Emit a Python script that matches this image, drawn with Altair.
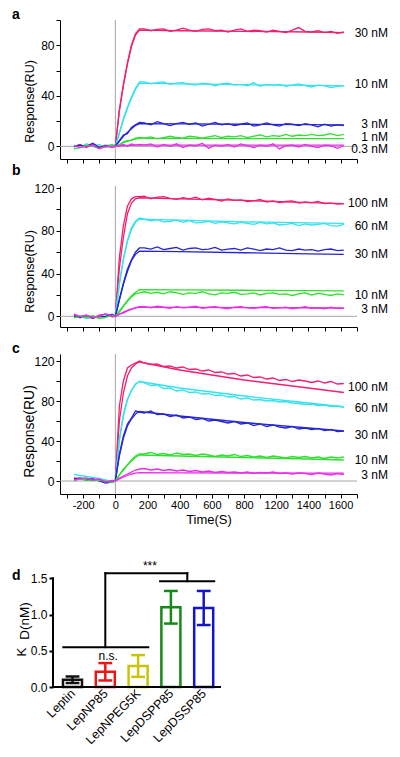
import json
import altair as alt
import pandas as pd

FONT = "Liberation Sans"
GRAY = "#a6a6a6"

# ---------------- time grids (s) ----------------
T_DATA = [-257, -220, -180, -140, -100, -60, -20, 0,
          25, 50, 75, 100, 125, 150,
          180, 220, 260, 300, 340, 380, 420, 460, 500, 540,
          580, 620, 660, 700, 740, 780, 820, 860, 900, 940,
          980, 1020, 1060, 1100, 1140, 1180, 1220, 1260, 1300, 1340,
          1380, 1420]
T_FIT = [0, 25, 50, 75, 100, 125, 150, 400, 800, 1200, 1420]

X_TICKS = [-300, -200, -100, 0, 100, 200, 300, 400, 500, 600, 700, 800,
           900, 1000, 1100, 1200, 1300, 1400, 1500]
X_LABEL_POS = [-200, 0, 200, 400, 600, 800, 1000, 1200, 1400]
X_LABEL_TXT = ["-200", "0", "200", "400", "600", "800", "1200", "1400", "1600"]

LINE_COLORS = ["#f21f6f", "#33e2ee", "#2626d2", "#30df30", "#e92ee9"]
RANKS = ["0", "1", "2", "3", "4"]

# ---------------- panel a ----------------
A_LABELS = ["30 nM", "10 nM", "3 nM", "1 nM", "0.3 nM"]
A_LABEL_Y = [90, 49, 18, 7.4, -2]
A30 = [0, 1.5, -1, 2, -0.5, 1, -1, 0] + [29, 49, 66, 80, 89, 93] + [
    93, 91.5, 92.5, 93, 91, 92, 93.5, 92, 91, 92.5, 93, 91.5, 92, 90.5, 92, 93,
    91, 92, 91.5, 90.5, 92, 91, 90, 92, 94, 91, 90.5, 91.5, 90, 91, 89.5, 90.5]
A10 = [1, -1, 2, 0, 1.5, -1, 0.5, 0] + [10, 22, 31, 39, 46, 51] + [
    51, 49.5, 50.5, 51, 49, 50, 50.5, 49, 48.5, 50, 49.5, 48, 49.5, 50, 48.5, 49,
    48, 50.5, 47.5, 49, 48.5, 49, 47.5, 48.5, 49.5, 48, 47, 48.5, 48, 46.5, 47.5, 48]
A3 = [-0.5, 1, 0, 2.5, -1, 0.5, 1, 0.5] + [4.5, 9, 10, 15, 17, 19] + [
    18.5, 17, 19.5, 18, 16.5, 18, 19, 17.5, 18.5, 16, 17.5, 19, 17, 18, 16.5, 17.5,
    18.5, 16, 17, 18.5, 17, 16, 18, 17.5, 16.5, 18, 17, 15.5, 17.5, 16, 17, 16.5]
A1 = [-2, -1, 1, 0, -1.5, 0, 1, 0] + [1, 3.5, 4.5, 5, 6.5, 7] + [
    6.5, 7.5, 6, 7, 8, 7, 6.5, 8, 7.5, 6.5, 7.5, 8.5, 7, 8, 7.5, 8.5,
    7, 8, 9, 7.5, 8.5, 8, 9.5, 8, 9, 8.5, 9.5, 8.5, 9, 10, 8.5, 9.5]
A03 = [0.5, -1, 0, 1, -2, 0, -0.5, 0] + [0.5, 1.5, 0, 2, 1, 1.5] + [
    1, 2, -0.5, 1.5, 0, 2, -1, 1, 0.5, 2.5, -1.5, 1, 0, 1.5, -0.5, 2,
    0.5, -1, 1, 0, 2, -2, 0.5, 1, -0.5, 1.5, 0, -1, 1, 0.5, -1.5, 0.5]
A30_FIT = [0, 28, 48, 65, 79, 88, 92, 91.5, 91, 90.5, 90]
A10_FIT = [0, 11, 21, 30, 38, 45, 50, 49.5, 48.8, 48.2, 47.8]
A3_FIT = [0, 4, 8, 11, 14, 16.5, 18, 17.8, 17.5, 17.2, 17]
A1_FIT = [0, 1.5, 3, 4, 5, 5.8, 6.3, 6.3, 6.2, 6.2, 6.1]
A03_FIT = [0, 0.3, 0.6, 0.8, 0.9, 1, 1, 1, 1, 1, 1]

# ---------------- panel b ----------------
B_LABELS = ["100 nM", "60 nM", "30 nM", "10 nM", "3 nM"]
B_LABEL_Y = [106, 84.6, 58.5, 20.4, 7.2]
B100 = [1, -1.5, 0, -2, 1, 2, -0.5, 0] + [55, 85, 103, 110, 112, 112] + [
    112.5, 110, 111.5, 112, 110.5, 109.5, 111, 110, 111.5, 109, 110.5, 109.5, 108, 110, 108.5, 109,
    107.5, 108, 109.5, 107, 108, 106.5, 107.5, 108, 106, 107, 106.5, 107.5, 105.5, 106, 105, 105.5]
B60 = [-1, 0.5, -2, -1, 0, 1.5, 1, 0] + [31, 54, 71, 83, 89, 92] + [
    91, 89.5, 90.5, 88.5, 89, 90, 88, 89.5, 87.5, 88, 89, 87, 88.5, 87.5, 86.5, 88,
    87, 86, 88, 86.5, 87.5, 85.5, 86, 87, 85, 86.5, 85.5, 86, 87, 85, 84.5, 86]
B30 = [0.5, -1, 1, -1.5, -0.5, 0, 2, 0] + [16, 31, 44, 53, 60, 64] + [
    64, 63, 65, 62.5, 63.5, 64.5, 62, 63.5, 64, 62.5, 63, 64.5, 62, 63, 63.5, 62,
    64, 63, 61.5, 63, 62.5, 64, 62, 61.5, 63, 62, 62.5, 61, 62.5, 63, 61.5, 62]
B10 = [-1.5, 0, -1, 0.5, -2, -1, 1, 0] + [4, 9, 14, 18, 21, 22] + [
    23, 21.5, 22.5, 21, 23, 22, 20.5, 22, 21.5, 23, 21, 20, 22, 21.5, 22.5, 20.5,
    21, 22, 20, 21.5, 22, 20.5, 21, 19.5, 21, 22, 20, 21.5, 20.5, 19.5, 21, 20]
B3 = [2, 0, 1, -1, 0, 2.5, 0.5, 0] + [2, 3, 5, 6.5, 8, 9] + [
    9, 8, 9.5, 8.5, 7.5, 9, 8, 8.5, 9.5, 7.5, 8.5, 9, 8, 7, 8.5, 9,
    8, 7.5, 8.5, 9, 7.5, 8, 8.5, 7, 8, 9, 7.5, 8, 7, 8.5, 7.5, 7.5]
B100_FIT = [0, 45, 74, 96, 106, 110, 111, 110, 108.5, 106.5, 105.5]
B60_FIT = [0, 30, 53, 70, 81, 88, 91, 90, 88.5, 87.5, 87]
B30_FIT = [0, 15, 30, 42, 52, 58, 61, 60.5, 59.5, 58.5, 58]
B10_FIT = [0, 5, 10, 15, 19, 22.5, 25, 24.8, 24.4, 24, 23.8]
B3_FIT = [0, 2, 4, 5.5, 7, 8, 8.5, 8.4, 8.2, 8, 7.8]

# ---------------- panel c ----------------
C_LABELS = ["100 nM", "60 nM", "30 nM", "10 nM", "3 nM"]
C_LABEL_Y = [94.5, 73, 46, 21.5, 6.5]
C100 = [3, 2, 1.5, 2, 0.5, -1, 0, 0] + [75, 100, 113, 116, 118, 120] + [
    118, 116.5, 117, 114.5, 115, 113, 114, 111.5, 112, 110, 111, 108.5, 109, 107, 107.5, 105,
    106, 103.5, 104, 102, 103, 100.5, 101.5, 99.5, 101, 100, 98.5, 100, 98, 99.5, 97, 97.5]
C60 = [6.5, 5.5, 4.5, 3.5, 2.5, 1, -0.5, 0] + [42, 67, 82, 90, 97, 99.5] + [
    98, 95.5, 96, 92.5, 93, 90, 91, 88.5, 89, 87, 87.5, 85.5, 86, 84, 84.5, 82,
    83, 81, 81.5, 80, 80.5, 79, 79.5, 78, 77.5, 76.5, 77, 75.5, 76, 74.5, 75, 74]
C30 = [2, 3, 1, 2, 0, -2, -1, 0] + [27, 45, 57, 63, 70, 69] + [
    68, 70, 66.5, 67, 64.5, 66, 63, 64, 61.5, 62.5, 60, 61, 59.5, 58, 59.5, 57,
    58, 55.5, 57, 54.5, 56, 54, 53, 54.5, 52, 53, 51.5, 52.5, 50.5, 51.5, 49.5, 50]
C10 = [0, 2, 1, 0.5, 1, 0, -1.5, 0] + [6, 12, 16, 21, 25, 27] + [
    27, 28.5, 26.5, 27.5, 26, 28, 26.5, 27, 25.5, 27, 26, 24.5, 26, 25, 26.5, 24.5,
    25.5, 24, 25, 23.5, 25, 24, 23, 24.5, 23.5, 24.5, 23, 24, 22.5, 24, 23, 24]
C3 = [1, 2.5, 3, 1, 2, -1, 0.5, 0] + [3, 5, 7, 9, 11, 12] + [
    12.5, 11, 12, 10.5, 11.5, 10, 11, 9.5, 10.5, 9, 10, 8.5, 9.5, 8.5, 9, 8,
    9, 7.5, 8.5, 8, 9, 7.5, 8, 7, 8, 7.5, 6.5, 8, 7, 6, 7.5, 6.5]
C100_FIT = [0, 60, 88, 105, 113, 117, 119, 111, 101, 93, 88.5]
C60_FIT = [0, 40, 65, 81, 91, 96.5, 99.5, 93, 85, 78, 74]
C30_FIT = [0, 25, 43, 55, 62, 67, 69.5, 65, 58.5, 53, 50]
C10_FIT = [0, 6, 11, 16, 20, 23.5, 26, 25, 23.5, 22, 21]
C3_FIT = [0, 2, 4, 5.5, 7, 7.8, 8.3, 8.2, 8, 7.9, 7.8]

# ---------------- panel d ----------------
D_NAMES = ["Leptin", "LepNP85", "LepNPEG5K", "LepDSPP85", "LepDSSP85"]
D_MEAN = [0.10, 0.21, 0.29, 1.10, 1.09]
D_ERR = [0.045, 0.12, 0.15, 0.225, 0.235]
D_COLORS = ["#111111", "#ee1515", "#c8c40a", "#17891b", "#1414cc"]
D_YTICKS = [0, 0.5, 1.0, 1.5]
BRK_X = [-0.28, 1.0, 1.0, 3.5, 2.67]
BRK_X2 = [2.31, 1.0, 3.5, 3.5, 4.32]
BRK_Y = [0.55, 0.55, 1.57, 1.57, 1.46]
BRK_Y2 = [0.55, 1.57, 1.57, 1.46, 1.46]
SIG_TXT = ["***", "n.s."]
SIG_X = [2.36, 1.09]
SIG_Y = [1.67, 0.43]

X_EXPR = " : ".join(f"datum.value == {p} ? '{s}'" for p, s in zip(X_LABEL_POS, X_LABEL_TXT)) + " : ''"


def sensor_panel(letter, letter_y, data_list, fit_list, labels, label_y, ydom,
                 yticks, height, show_x, title_y, title_size):
    rows = []
    for rank, (d, f) in enumerate(zip(data_list, fit_list)):
        assert len(d) == len(T_DATA) and len(f) == len(T_FIT)
        rows += [{"t": t, "v": v, "s": str(rank), "k": "data"} for t, v in zip(T_DATA, d)]
        rows += [{"t": t, "v": v, "s": str(rank), "k": "fit"} for t, v in zip(T_FIT, f)]
    df = pd.DataFrame(rows)

    if show_x:
        xaxis = alt.Axis(values=X_TICKS, labelExpr=X_EXPR, title="Time(S)",
                         labelFontSize=11, labelPadding=1, titleFontSize=13,
                         titlePadding=3, tickSize=4, labelFlush=False,
                         labelOverlap=False)
    else:
        xaxis = alt.Axis(values=X_TICKS, labels=False, title=None, tickSize=4)
    X = alt.X("t:Q", scale=alt.Scale(domain=[-344, 1502], nice=False, zero=False), axis=xaxis)
    yaxis = alt.Axis(values=yticks, labelExpr="datum.value % 40 == 0 ? datum.label : ''",
                     title="Response(RU)", titleX=-24, titleY=title_y,
                     titleFontSize=title_size, labelFontSize=12, tickSize=4,
                     labelPadding=2, labelOverlap=False, labelFlush=False)
    Y = alt.Y("v:Q", scale=alt.Scale(domain=ydom, nice=False, zero=False), axis=yaxis)

    vline = alt.Chart(pd.DataFrame({"t": [0]})).mark_rule(color=GRAY, strokeWidth=1).encode(x=X)
    hline = alt.Chart(pd.DataFrame({"v": [0]})).mark_rule(color=GRAY, strokeWidth=1).encode(y=Y)
    lines = alt.Chart(df).mark_line(strokeWidth=1.3).encode(
        x=X, y=Y,
        color=alt.Color("s:N", scale=alt.Scale(domain=RANKS, range=LINE_COLORS), legend=None),
        detail="k:N")
    labs = alt.Chart(pd.DataFrame({"v": label_y, "lab": labels})).mark_text(
        align="right", baseline="middle", fontSize=12, font=FONT, color="black"
    ).encode(y=Y, x=alt.value(328), text="lab:N")
    let = alt.Chart(pd.DataFrame({"lab": [letter]})).mark_text(
        align="left", baseline="alphabetic", fontSize=14, fontWeight="bold", font=FONT, color="black"
    ).encode(x=alt.value(-48), y=alt.value(letter_y), text="lab:N")
    return alt.layer(vline, hline, lines, labs, let).properties(width=297, height=height)


pa = sensor_panel("a", -1, [A30, A10, A3, A1, A03], [A30_FIT, A10_FIT, A3_FIT, A1_FIT, A03_FIT],
                  A_LABELS, A_LABEL_Y, [-10, 100], [0, 20, 40, 60, 80, 100], 139, False, 81, 12.5)
pb = sensor_panel("b", -11, [B100, B60, B30, B10, B3], [B100_FIT, B60_FIT, B30_FIT, B10_FIT, B3_FIT],
                  B_LABELS, B_LABEL_Y, [-10, 122], [0, 20, 40, 60, 80, 100, 120], 141, False, 85, 12.5)
pc = sensor_panel("c", -1, [C100, C60, C30, C10, C3], [C100_FIT, C60_FIT, C30_FIT, C10_FIT, C3_FIT],
                  C_LABELS, C_LABEL_Y, [-13, 127], [0, 20, 40, 60, 80, 100, 120], 140, True, 77, 14)

# ---------------- bar panel d ----------------
dd = pd.DataFrame({"pos": list(range(len(D_NAMES))), "name": D_NAMES, "mean": D_MEAN, "err": D_ERR})
xs_d = alt.Scale(domain=[-0.381, 4.497], nice=False, zero=False)
ys_d = alt.Scale(domain=[0, 2.29], nice=False, zero=False)
axis_dx = alt.Axis(values=list(range(len(D_NAMES))), labelExpr=f"{json.dumps(D_NAMES)}[datum.value]",
                   labelAngle=-45, labelAlign="right", labelBaseline="middle", domain=False,
                   ticks=False, labelPadding=4, labelFontSize=12.5, title=None,
                   labelOverlap=False, labelFlush=False)
axis_dy = alt.Axis(values=D_YTICKS, format=".1f", domain=False, offset=7, tickSize=4,
                   tickWidth=2, labelFontSize=12, labelPadding=2, title=None,
                   labelOverlap=False, labelFlush=False)
STROKE = alt.Stroke("name:N", scale=alt.Scale(domain=D_NAMES, range=D_COLORS), legend=None)

bars = alt.Chart(dd).transform_calculate(
    x1="datum.pos - 0.29", x2="datum.pos + 0.29", y0="0"
).mark_bar(fillOpacity=0, strokeWidth=2.5).encode(
    x=alt.X("x1:Q", scale=xs_d, axis=axis_dx), x2="x2:Q",
    y=alt.Y("mean:Q", scale=ys_d, axis=axis_dy), y2="y0:Q", stroke=STROKE)
errs = alt.Chart(dd).transform_calculate(
    lo="datum.mean - datum.err", hi="datum.mean + datum.err"
).mark_rule(strokeWidth=2.5).encode(
    x=alt.X("pos:Q", scale=xs_d, axis=axis_dx),
    y=alt.Y("lo:Q", scale=ys_d, axis=axis_dy), y2="hi:Q", stroke=STROKE)
caps = alt.Chart(dd).transform_calculate(
    lo="datum.mean - datum.err", hi="datum.mean + datum.err",
    c1="datum.pos - 0.21", c2="datum.pos + 0.21"
).transform_fold(["lo", "hi"], as_=["which", "yv"]).mark_rule(strokeWidth=2.5).encode(
    x=alt.X("c1:Q", scale=xs_d, axis=axis_dx), x2="c2:Q",
    y=alt.Y("yv:Q", scale=ys_d, axis=axis_dy), stroke=STROKE)
brk = alt.Chart(pd.DataFrame({"x": BRK_X, "x2": BRK_X2, "y": BRK_Y, "y2": BRK_Y2})).mark_rule(
    strokeWidth=2, color="black", strokeCap="square").encode(
    x=alt.X("x:Q", scale=xs_d, axis=axis_dx), x2="x2:Q",
    y=alt.Y("y:Q", scale=ys_d, axis=axis_dy), y2="y2:Q")
sig = alt.Chart(pd.DataFrame({"x": SIG_X, "y": SIG_Y, "s": SIG_TXT})).mark_text(
    fontSize=12, font=FONT, color="black", baseline="middle").encode(
    x=alt.X("x:Q", scale=xs_d, axis=axis_dx), y=alt.Y("y:Q", scale=ys_d, axis=axis_dy), text="s:N")
axes_df = pd.DataFrame({"lo": [D_YTICKS[0]], "hi": [D_YTICKS[-1]]})
yline = alt.Chart(axes_df).mark_rule(strokeWidth=2, color="black", strokeCap="square").encode(
    x=alt.value(-7), y=alt.Y("lo:Q", scale=ys_d, axis=axis_dy), y2="hi:Q")
xline = alt.Chart(axes_df).mark_rule(strokeWidth=2, color="black", strokeCap="square").encode(
    x=alt.value(-7), x2=alt.value(160), y=alt.Y("lo:Q", scale=ys_d, axis=axis_dy))
kd = alt.Chart(pd.DataFrame({"s": ["K", "D(nM)"], "px": [-38, -35], "py": [131, 100]})).mark_text(
    angle=270, fontSize=13.5, font=FONT, color="black", align="center", baseline="middle"
).encode(x=alt.X("px:Q", scale=None), y=alt.Y("py:Q", scale=None), text="s:N")
letd = alt.Chart(pd.DataFrame({"lab": ["d"]})).mark_text(
    align="left", baseline="alphabetic", fontSize=14, fontWeight="bold", font=FONT, color="black"
).encode(x=alt.value(-48), y=alt.value(59), text="lab:N")

pdn = alt.layer(bars, errs, caps, brk, sig, yline, xline, kd, letd).properties(width=160, height=166)

chart = alt.vconcat(pa, pb, pc, pdn, spacing=27, bounds="flush").properties(
    padding={"left": 4, "top": 0, "right": 0, "bottom": 0}
).configure_view(stroke=None).configure_axis(
    grid=False, domainColor="black", domainWidth=1, tickColor="black", tickWidth=1,
    labelColor="black", titleColor="black", labelFont=FONT, titleFont=FONT,
    titleFontWeight="normal")

chart.save("out.html", embed_options={"renderer": "svg", "actions": False})
